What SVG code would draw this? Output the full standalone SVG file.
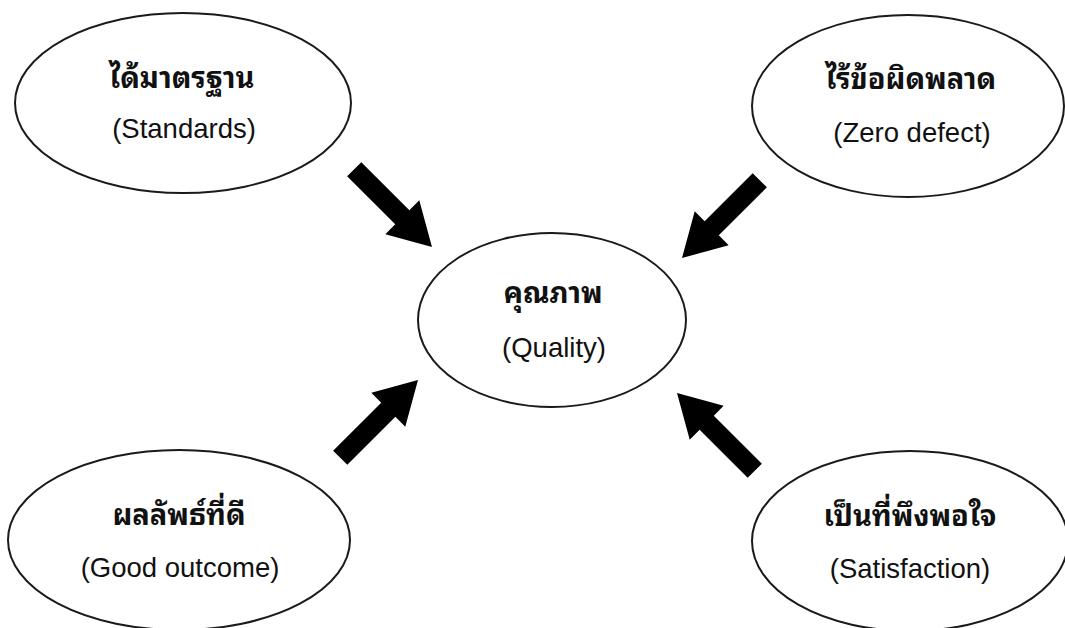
<svg xmlns="http://www.w3.org/2000/svg" xmlns:xlink="http://www.w3.org/1999/xlink" width="1065" height="628" viewBox="0 0 1065 628">
<style>
.node ellipse{fill:#fff;stroke:#1a1a1a;stroke-width:2}
.th{font-family:"Noto Sans Thai Looped","Noto Sans Thai","Loma","Tahoma","Garuda","DejaVu Sans",sans-serif;font-weight:bold;font-size:29px;fill:#111;text-anchor:middle}
.en{font-family:"Liberation Sans",Arial,sans-serif;font-size:27.5px;fill:#111;text-anchor:middle}
.arrow{fill:#000}
</style>
<defs>
<path id="arr" d="M-110,-10 L-42,-10 L-42,-24 L0,0 L-42,24 L-42,10 L-110,10 Z"/>
</defs>
<rect width="1065" height="628" fill="#fff"/>
<g id="connectors" class="arrow">
<use xlink:href="#arr" href="#arr" transform="translate(432,247) rotate(45)"/>
<use xlink:href="#arr" href="#arr" transform="translate(682,258) rotate(135)"/>
<use xlink:href="#arr" href="#arr" transform="translate(418,380) rotate(-45)"/>
<use xlink:href="#arr" href="#arr" transform="translate(677,393) rotate(-135)"/>
</g>
<g id="standards" class="node">
<ellipse cx="183" cy="103" rx="168" ry="90"/>
<text class="th" x="182" y="88">ได้มาตรฐาน</text>
<text class="en" x="184" y="138">(Standards)</text>
</g>
<g id="zero-defect" class="node">
<ellipse cx="908" cy="106" rx="156" ry="91"/>
<text class="th" x="911" y="89">ไร้ข้อผิดพลาด</text>
<text class="en" x="912" y="142">(Zero defect)</text>
</g>
<g id="quality" class="node">
<ellipse cx="552" cy="320" rx="134" ry="87"/>
<text class="th" x="553" y="303">คุณภาพ</text>
<text class="en" x="554" y="357">(Quality)</text>
</g>
<g id="good-outcome" class="node">
<ellipse cx="179" cy="540" rx="171" ry="90"/>
<text class="th" x="179" y="525">ผลลัพธ์ที่ดี</text>
<text class="en" x="180" y="577">(Good outcome)</text>
</g>
<g id="satisfaction" class="node">
<ellipse cx="910" cy="541" rx="158" ry="90"/>
<text class="th" x="910" y="526">เป็นที่พึงพอใจ</text>
<text class="en" x="910" y="578">(Satisfaction)</text>
</g>
</svg>
